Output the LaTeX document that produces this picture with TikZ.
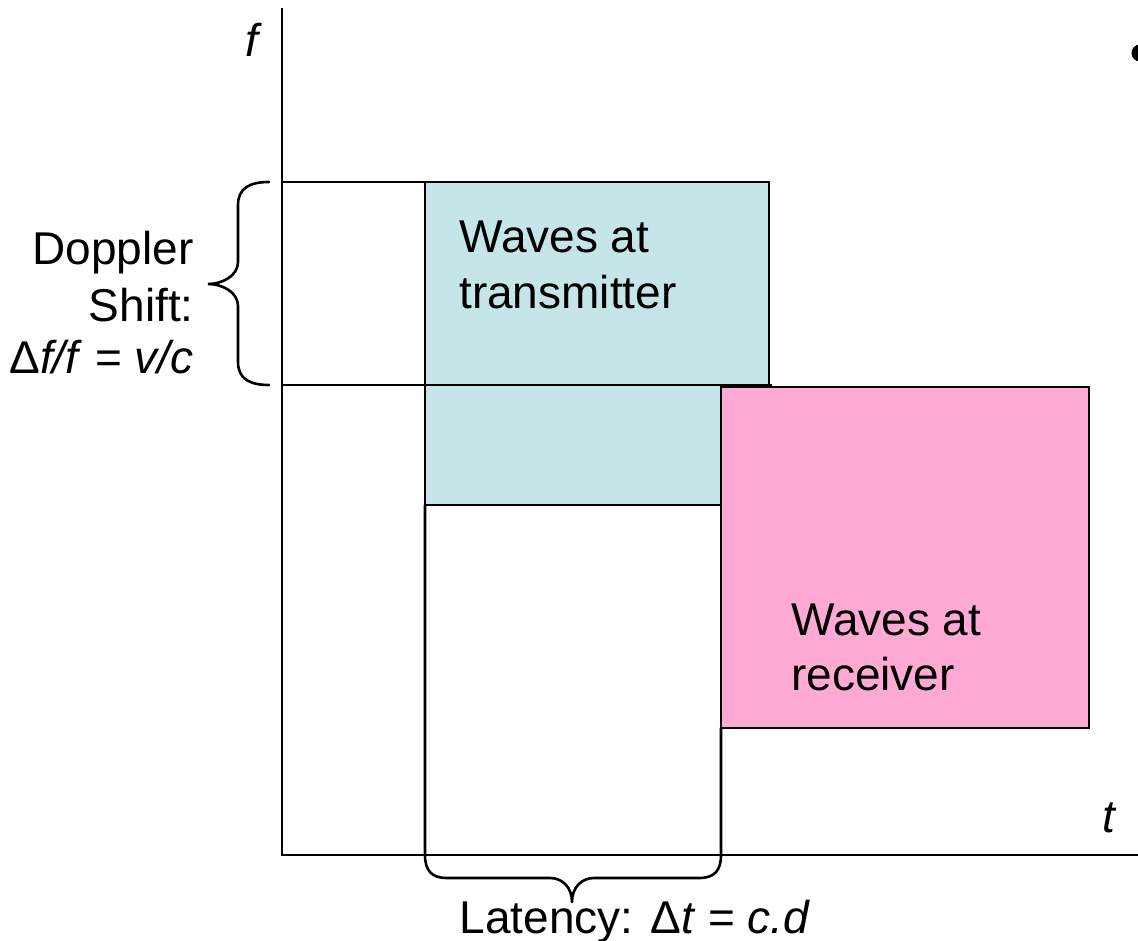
\documentclass[tikz,border=0pt]{standalone}
\usepackage{fontspec}
\setmainfont{Liberation Sans}
\definecolor{teal1}{RGB}{198,229,232}
\definecolor{pink1}{RGB}{254,170,213}
\begin{document}
\begin{tikzpicture}[x=1pt,y=-1pt,line width=2.6pt,
  lbl/.style={inner sep=0pt,font=\fontsize{46}{55}\selectfont},
  boxline/.style={draw=black,line width=2.6pt}]
\useasboundingbox (0,0) rectangle (1138,941);
% boxes
\fill[teal1] (425,182) rectangle (769,505);
\draw[boxline] (425,182) rectangle (769,505);
\fill[pink1] (721,387) rectangle (1089,728);
\draw[boxline] (721,387) rectangle (1089,728);
% level lines
\draw (282,182) -- (769,182);
\draw (282,385) -- (772,385);
% latency verticals and bottom brace
\draw[line cap=round,line join=round] (425,505) -- (425,855) .. controls (425,871) and (432,878) .. (447,878) -- (550,878) .. controls (563,878) and (572,888) .. (572,902) .. controls (572,888) and (581,878) .. (594,878) -- (699,878) .. controls (714,878) and (721,871) .. (721,855) -- (721,728);
% axes
\coordinate (O) at (282,855);
\coordinate (ytop) at (282,8);
\coordinate (xend) at (1140,855);
\draw (ytop) -- (O) -- (xend);
% left brace
\draw[line cap=round] (269,182) .. controls (250,182) and (238,188) .. (238,205) -- (238,262) .. controls (238,276) and (222,284) .. (208,284) .. controls (222,284) and (238,292) .. (238,306) -- (238,362) .. controls (238,379) and (250,385) .. (269,385);
% bullet
\fill (1140,53) circle (8.5);
% texts
\node[lbl,anchor=base east] (f) at (264,57) {\textit{f}};
\node[lbl,anchor=base west] (t) at (1101,832) {\textit{t}};
\node[lbl,anchor=base west] (tx1) at (458,253) {Waves at};
\node[lbl,anchor=base west] (tx2) at (458,309) {transmitter};
\node[lbl,anchor=base west] (rx1) at (790,635) {Waves at};
\node[lbl,anchor=base west] (rx2) at (790,690) {receiver};
\node[lbl,anchor=base east] (d1) at (195,265) {Doppler};
\node[lbl,anchor=base east] (d2) at (195,322) {Shift:};
\node[lbl,anchor=base east] (d3) at (195,373) {Δ\textit{f/f} = \textit{v/c}};
\node[lbl,anchor=base] (lat) at (635,933) {Latency: Δ\textit{t} = \textit{c.d}};
\end{tikzpicture}
\end{document}
